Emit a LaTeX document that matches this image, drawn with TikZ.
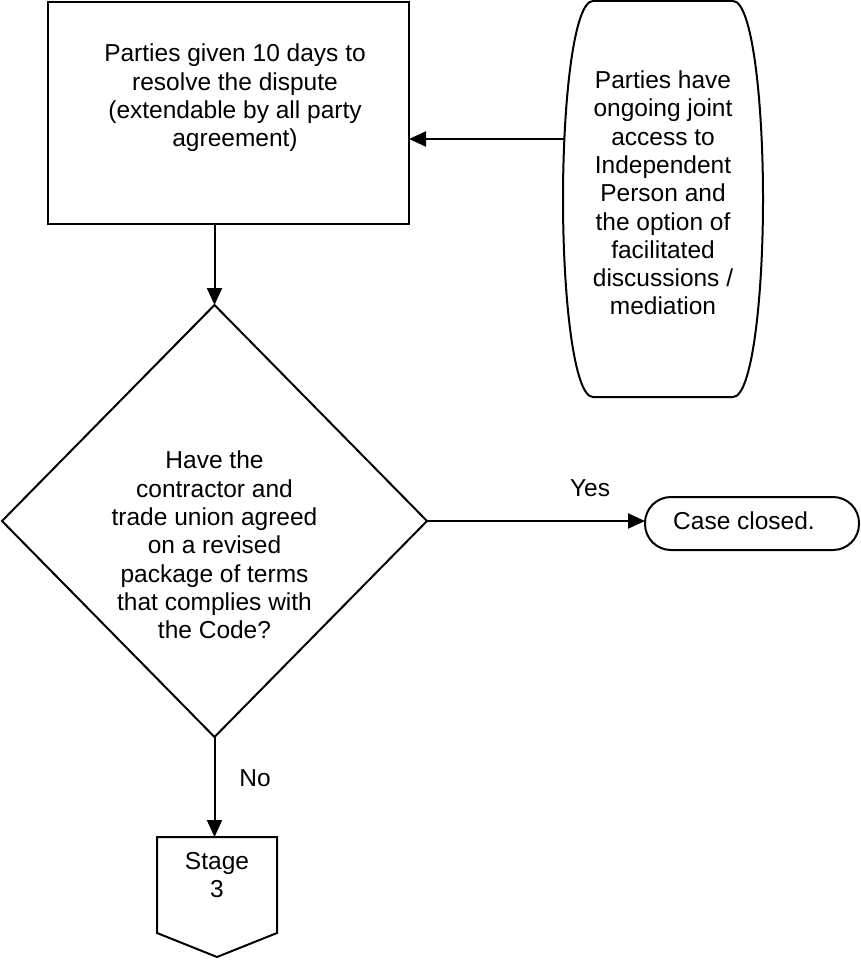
\documentclass[tikz,border=0pt]{standalone}
\usepackage{fontspec}
\setmainfont{Liberation Sans}
\usetikzlibrary{arrows.meta,shapes.geometric,calc}
\begin{document}
\begin{tikzpicture}[x=1pt,y=-1pt,
  line width=2pt,
  every node/.style={inner sep=0pt,outer sep=0pt},
  txt/.style={align=center,font=\fontsize{24.5}{28.3}\selectfont},
  arr/.style={-{Triangle[length=17pt,width=15pt]}},
  boxshape/.style={draw,rectangle,minimum width=361pt,minimum height=222pt},
  dia/.style={draw,diamond,minimum width=425pt,minimum height=432pt}
]
\useasboundingbox (0,0) rectangle (860,960);
% main rectangle
\node[boxshape] (box) at (228.5,113) {};
\node[txt] (boxtxt) at (235,98) {Parties given 10 days to\\resolve the dispute\\(extendable by all party\\agreement)};
% side rounded shape
\node[minimum width=200pt,minimum height=396pt] (side) at (663,199) {};
\draw (593,1) -- (733,1) .. controls (752,1) and (763,100) .. (763,199)
  .. controls (763,298) and (752,397) .. (733,397) -- (593,397)
  .. controls (574,397) and (563,298) .. (563,199)
  .. controls (563,100) and (574,1) .. (593,1) -- cycle;
\node[txt] (sidetxt) at (663,193) {Parties have\\ongoing joint\\access to\\Independent\\Person and\\the option of\\facilitated\\discussions /\\mediation};
\coordinate (sidein) at (565,139);
\draw[arr] (sidein) -- (box.east |- sidein);
% diamond
\node[dia] (q) at (214.5,521) {};
\node[txt] (qtxt) at (214.5,545) {Have the\\contractor and\\trade union agreed\\on a revised\\package of terms\\that complies with\\the Code?};
\draw[arr] (box.south -| q.north) -- (q.north);
% case closed
\node[draw,rounded corners=26pt,minimum width=214pt,minimum height=53pt] (closed) at (752,523.5) {};
\node[txt] (closedtxt) at (744,521) {Case closed.};
\draw[arr] (q.east) -- (closed.west |- q.east);
\node[txt] (yes) at (590,488) {Yes};
% stage 3
\coordinate (stg) at (217,837);
\draw (157,837) -- (277,837) -- (277,933) -- (217,957) -- (157,933) -- cycle;
\node[txt] (stagetxt) at (217,875) {Stage\\3};
\draw[arr] (q.south) -- (q.south |- stg);
\node[txt] (no) at (255,778) {No};
\end{tikzpicture}
\end{document}
